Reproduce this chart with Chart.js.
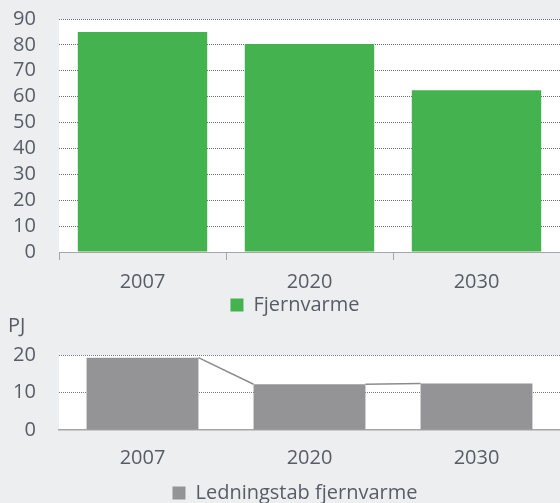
<!DOCTYPE html>
<html>
<head>
<meta charset="utf-8">
<script src="https://cdn.jsdelivr.net/npm/chart.js@4/dist/chart.umd.min.js"></script>
<style>
  html, body { margin: 0; padding: 0; background: #edeef0; }
  body { width: 560px; height: 503px; position: relative; overflow: hidden; font-family: 'Open Sans', sans-serif; }
  .box { position: absolute; left: 0; width: 560px; }
  #top-box { top: 0; height: 325px; }
  #bot-box { top: 314px; height: 199px; }
  #pj { position: absolute; left: 8px; top: 313px; font-size: 20px; line-height: 24px; color: #575d67; }
</style>
</head>
<body>
<div class="box" id="top-box"><canvas id="top-chart"></canvas></div>
<div id="pj">PJ</div>
<div class="box" id="bot-box"><canvas id="bot-chart"></canvas></div>
<script>
// ── Data ──
const years = ['2007', '2020', '2030'];
const fjernvarme = [85, 80.3, 62.5];
const ledningstab = [19.3, 12.2, 12.4];
const topTicks = [0, 90, 10];   // min, max, step
const botTicks = [0, 20, 10];

const TEXT = '#575d67';
const GREEN = '#44b24f';
const GREY = '#949497';
const AXIS = '#a6a6a6';

Chart.defaults.font.family = "'Open Sans', sans-serif";
Chart.defaults.font.size = 20;
Chart.defaults.color = TEXT;
Chart.defaults.animation = false;

// white plot area on the grey page
const plotBg = {
  id: 'plotBg',
  beforeDraw(chart) {
    const { ctx, chartArea: a } = chart;
    ctx.save();
    ctx.fillStyle = '#ffffff';
    ctx.fillRect(a.left, a.top, a.right - a.left, a.bottom - a.top);
    ctx.restore();
  }
};

// connecting lines from bar top to next bar top (Excel series lines)
const seriesLines = {
  id: 'seriesLines',
  afterDatasetsDraw(chart) {
    const bars = chart.getDatasetMeta(0).data;
    const ctx = chart.ctx;
    ctx.save();
    ctx.strokeStyle = '#8c8c90';
    ctx.lineWidth = 1.5;
    for (let i = 0; i < bars.length - 1; i++) {
      const a = bars[i], b = bars[i + 1];
      ctx.beginPath();
      ctx.moveTo(a.x + a.width / 2, a.y);
      ctx.lineTo(b.x - b.width / 2, b.y);
      ctx.stroke();
    }
    ctx.restore();
  }
};

// y axis: labels mirrored with negative padding so they sit left of the plot without clipping
function yScale(t, gridColor, z) {
  return {
    min: t[0], max: t[1], z: z,
    afterFit: s => { s.width = 29; },
    ticks: { stepSize: t[2], autoSkip: false, mirror: true, crossAlign: 'far', padding: -46, color: TEXT },
    grid: {
      drawTicks: false,
      color: ctx => ctx.tick.value === 0 ? 'rgba(0,0,0,0)' : gridColor,
      lineWidth: 1
    },
    border: { display: false, dash: [1, 1] }
  };
}

// ── Top chart: Fjernvarme ──
new Chart(document.getElementById('top-chart'), {
  type: 'bar',
  data: {
    labels: years,
    datasets: [{
      label: 'Fjernvarme', data: fjernvarme, backgroundColor: GREEN,
      borderWidth: 0, categoryPercentage: 1, barPercentage: 0.775
    }]
  },
  options: {
    responsive: true, maintainAspectRatio: false,
    layout: { padding: { top: 19, left: 30, right: 0, bottom: 0 } },
    plugins: {
      legend: { position: 'bottom', labels: { boxWidth: 13, boxHeight: 13, padding: 0, color: TEXT } },
      tooltip: { enabled: false }
    },
    scales: {
      x: {
        afterFit: s => { s.height -= 9; },
        ticks: { padding: 10, color: TEXT },
        grid: { drawOnChartArea: false, tickLength: 8, tickColor: AXIS, offset: true },
        border: { color: AXIS, width: 1 }
      },
      y: yScale(topTicks, 'rgba(60,60,60,0.75)', 1)
    }
  },
  plugins: [plotBg]
});

// ── Bottom chart: Ledningstab fjernvarme ──
new Chart(document.getElementById('bot-chart'), {
  type: 'bar',
  data: {
    labels: years,
    datasets: [{
      label: 'Ledningstab fjernvarme', data: ledningstab, backgroundColor: GREY,
      borderWidth: 0, categoryPercentage: 1, barPercentage: 0.67
    }]
  },
  options: {
    responsive: true, maintainAspectRatio: false,
    layout: { padding: { top: 41, left: 30, right: 0, bottom: 0 } },
    plugins: {
      legend: { position: 'bottom', labels: { boxWidth: 13, boxHeight: 13, padding: 5, color: TEXT } },
      tooltip: { enabled: false }
    },
    scales: {
      x: {
        ticks: { padding: 8, color: TEXT },
        grid: { drawOnChartArea: false, tickLength: 8, tickColor: 'rgba(0,0,0,0)' },
        border: { color: AXIS, width: 1.5 }
      },
      y: yScale(botTicks, 'rgba(90,90,90,0.8)', 0)
    }
  },
  plugins: [plotBg, seriesLines]
});
</script>
</body>
</html>
